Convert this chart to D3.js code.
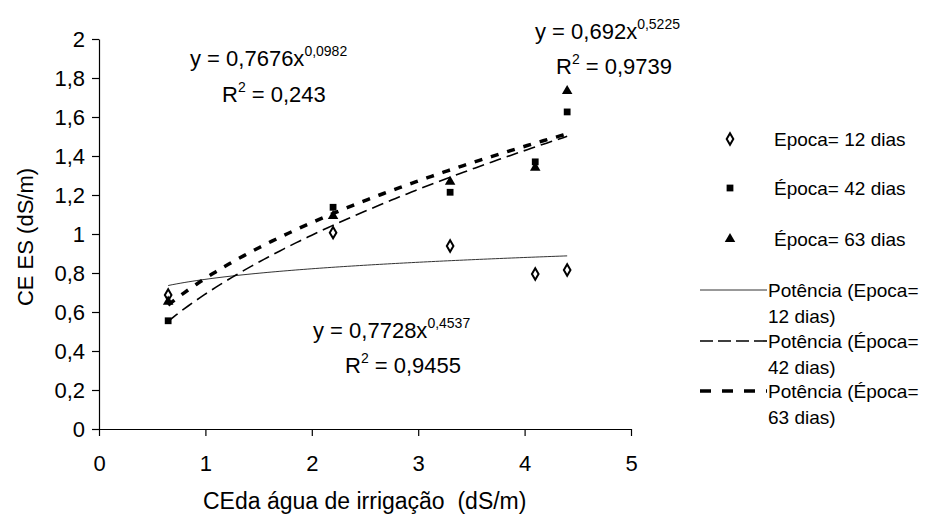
<!DOCTYPE html>
<html>
<head>
<meta charset="utf-8">
<script src="https://cdn.jsdelivr.net/npm/d3@7"></script>
<style>
  html, body { margin: 0; padding: 0; background: #fff; }
  svg { display: block; font-family: "Liberation Sans", Arial, sans-serif; }
</style>
</head>
<body>
<svg id="chart" width="928" height="527"></svg>
<script>
// Irrigation water EC (dS/m) at which each sampling was taken
const xValues = [0.65, 2.2, 3.3, 4.1, 4.4];
// Soil extract EC (dS/m) for each sampling time
const epoca12 = [0.687, 1.007, 0.938, 0.795, 0.815];
const epoca42 = [0.555, 1.137, 1.214, 1.37, 1.626];
const epoca63 = [0.653, 1.092, 1.268, 1.34, 1.733];
// Power-law fits y = a * x^b, in series order (12, 42, 63 dias)
const fitA = [0.7676, 0.692, 0.7728];
const fitB = [0.0982, 0.5225, 0.4537];
const fitR2 = ["0,243", "0,9739", "0,9455"];
const xTicks = [0, 1, 2, 3, 4, 5];
const yTicks = [0, 0.2, 0.4, 0.6, 0.8, 1, 1.2, 1.4, 1.6, 1.8, 2];
const seriesNames = ["Epoca= 12 dias", "Época= 42 dias", "Época= 63 dias"];
const trendNames = [["Potência (Epoca=", "12 dias)"], ["Potência (Época=", "42 dias)"], ["Potência (Época=", "63 dias)"]];

const svg = d3.select("#chart");
const x = d3.scaleLinear().domain([0, 5]).range([99, 631]);
const y = d3.scaleLinear().domain([0, 2]).range([429, 39]);
const fmt = v => String(v).replace(".", ",");

// axes
const xAxis = svg.append("g").attr("transform", `translate(0,${y(0)})`)
  .call(d3.axisBottom(x).tickValues(xTicks).tickFormat(d => d).tickSizeOuter(0).tickSizeInner(7).tickPadding(19));
const yAxis = svg.append("g").attr("transform", `translate(${x(0)},0)`)
  .call(d3.axisLeft(y).tickValues(yTicks).tickFormat(fmt).tickSizeOuter(0).tickSizeInner(7).tickPadding(7));
[xAxis, yAxis].forEach(g => {
  g.selectAll("path.domain").attr("stroke", "#000").attr("stroke-width", 1.2);
  g.selectAll(".tick line").attr("stroke", "#000").attr("stroke-width", 1.2);
  g.selectAll(".tick text").attr("font-size", 22).attr("fill", "#000")
    .attr("font-family", "Liberation Sans, Arial, sans-serif");
});

// axis titles
svg.append("text").attr("x", 203).attr("y", 509)
  .attr("font-size", 23).attr("xml:space", "preserve")
  .text("CEda água de irrigação  (dS/m)");
svg.append("text").attr("transform", "translate(33,237) rotate(-90)")
  .attr("text-anchor", "middle").attr("font-size", 22).text("CE ES (dS/m)");

// trend lines
const trendStyles = [
  { w: 1, dash: null, color: "#333" },
  { w: 1.6, dash: "12,6", color: "#000" },
  { w: 3.5, dash: "8,9", color: "#000" }
];
const xs = d3.range(0, 101).map(i => xValues[0] + (xValues[4] - xValues[0]) * i / 100);
const line = d3.line().x(d => x(d[0])).y(d => y(d[1]));
fitA.forEach((a, i) => {
  const pts = xs.map(v => [v, a * Math.pow(v, fitB[i])]);
  svg.append("path").attr("d", line(pts)).attr("fill", "none")
    .attr("stroke", trendStyles[i].color).attr("stroke-width", trendStyles[i].w)
    .attr("stroke-dasharray", trendStyles[i].dash);
});

// markers
const diamond = d3.symbol().type(d3.symbolDiamond).size(38);
const square = d3.symbol().type(d3.symbolSquare).size(46);
const triangle = d3.symbol().type(d3.symbolTriangle).size(48);
function drawMarker(g, kind, cx, cy) {
  if (kind === 0) {
    g.append("path").attr("d", diamond()).attr("transform", `translate(${cx},${cy})`)
      .attr("fill", "#fff").attr("stroke", "#000").attr("stroke-width", 2);
  } else if (kind === 1) {
    g.append("path").attr("d", square()).attr("transform", `translate(${cx},${cy})`).attr("fill", "#000");
  } else {
    g.append("path").attr("d", triangle()).attr("transform", `translate(${cx},${cy})`).attr("fill", "#000");
  }
}
const pts = svg.append("g");
[epoca12, epoca42, epoca63].forEach((vals, k) => {
  vals.forEach((v, i) => drawMarker(pts, k, x(xValues[i]), y(v)));
});

// equation labels
function eq(k, xp, yp, rx, ry) {
  const t = svg.append("text").attr("x", xp).attr("y", yp).attr("font-size", 22);
  t.append("tspan").text(`y = ${fmt(fitA[k])}x`);
  t.append("tspan").attr("dy", -10).attr("font-size", 14).text(fmt(fitB[k]));
  const r = svg.append("text").attr("x", rx).attr("y", ry).attr("font-size", 22);
  r.append("tspan").text("R");
  r.append("tspan").attr("dy", -10).attr("font-size", 14).text("2");
  r.append("tspan").attr("dy", 10).text(` = ${fitR2[k]}`);
}
eq(0, 190, 66, 222, 102);
eq(2, 313, 338, 345, 373);
eq(1, 535, 39, 556, 74);

// legend
const leg = svg.append("g");
const legY = [139, 188, 239];
seriesNames.forEach((n, k) => {
  drawMarker(leg, k, 730, legY[k]);
  leg.append("text").attr("x", 774).attr("y", legY[k] + 7).attr("font-size", 19).text(n);
});
const trendY = [290, 341, 391];
const legDash = [null, "13,5", "11,11"];
trendNames.forEach((n, k) => {
  leg.append("line").attr("x1", 700).attr("x2", 767).attr("y1", trendY[k]).attr("y2", trendY[k])
    .attr("stroke", trendStyles[k].color).attr("stroke-width", trendStyles[k].w)
    .attr("stroke-dasharray", legDash[k]);
  leg.append("text").attr("x", 768).attr("y", trendY[k] + 7).attr("font-size", 19).text(n[0]);
  leg.append("text").attr("x", 768).attr("y", trendY[k] + 33).attr("font-size", 19).text(n[1]);
});
</script>
</body>
</html>
